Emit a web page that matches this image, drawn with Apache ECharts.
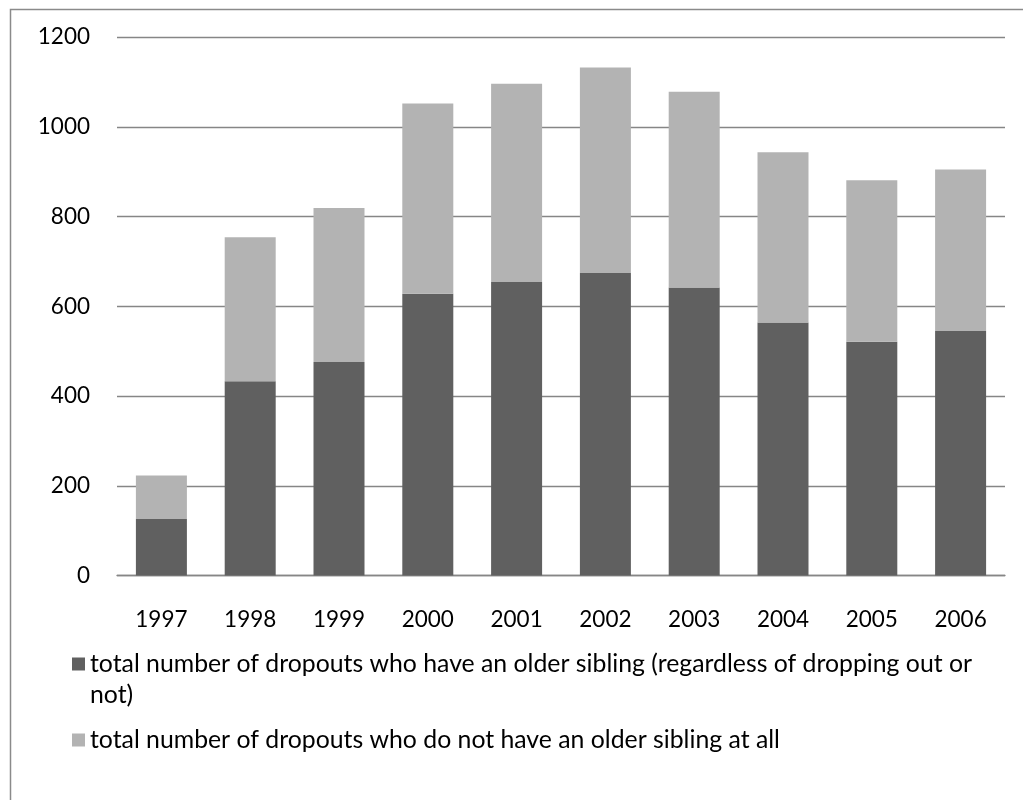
<!DOCTYPE html>
<html>
<head>
<meta charset="utf-8">
<script src="https://cdn.jsdelivr.net/npm/echarts@6/dist/echarts.min.js"></script>
<style>
  html, body { margin: 0; padding: 0; background: #ffffff; }
  #chart { width: 1023px; height: 800px; }
</style>
</head>
<body>
<div id="chart"></div>
<script>
// Dropout counts per year, split by whether the student has an older sibling
const years = ['1997', '1998', '1999', '2000', '2001', '2002', '2003', '2004', '2005', '2006'];
const withOlderSibling = [126, 433, 476, 628, 654, 674, 642, 564, 521, 545];
const withoutOlderSibling = [97, 321, 343, 424, 442, 458, 436, 379, 360, 360];
const seriesNames = [
  'total number of dropouts who have an older sibling (regardless of dropping out or not)',
  'total number of dropouts who do not have an older sibling at all'
];
const yTicks = { min: 0, max: 1200, interval: 200 };

const FONT = 'Lato, "Open Sans", sans-serif';
const chart = echarts.init(document.getElementById('chart'), null, { renderer: 'canvas' });

chart.setOption({
  backgroundColor: '#ffffff',
  animation: false,
  graphic: [{
    type: 'rect',
    left: 8, top: 7,
    shape: { width: 1100, height: 900 },
    style: { fill: 'none', stroke: '#8a8a8a', lineWidth: 1.5 },
    silent: true, z: -1
  }],
  grid: { left: 117, right: 18, top: 37, bottom: 224.5, containLabel: false },
  legend: {
    orient: 'vertical',
    left: 72,
    top: 612.5,
    padding: [5, 0, 5, 0],
    itemWidth: 13,
    itemHeight: 13,
    itemGap: 14,
    icon: 'rect',
    textStyle: {
      fontFamily: FONT, fontSize: 24.8, color: '#000000',
      width: 905, overflow: 'break', lineHeight: 31
    },
    // the long entry wraps; a leading empty line keeps its first line level with the swatch
    formatter: (name) => (name === seriesNames[0] ? '\n' + name : name)
  },
  xAxis: {
    type: 'category',
    data: years,
    axisLine: { show: true, lineStyle: { color: '#868686', width: 1.3 } },
    axisTick: { show: false },
    axisLabel: { fontFamily: FONT, fontSize: 22.5, color: '#000000', margin: 33 }
  },
  yAxis: {
    type: 'value',
    min: yTicks.min, max: yTicks.max, interval: yTicks.interval,
    axisLine: { show: false },
    axisTick: { show: false },
    splitLine: { lineStyle: { color: '#868686', width: 1.3 } },
    axisLabel: {
      fontFamily: FONT, fontSize: 22.5, color: '#000000', margin: 27,
      formatter: (v) => String(v)
    }
  },
  series: [
    {
      name: seriesNames[0], type: 'bar', stack: 'total', barWidth: 51,
      data: withOlderSibling, itemStyle: { color: '#606060' }
    },
    {
      name: seriesNames[1], type: 'bar', stack: 'total', barWidth: 51,
      data: withoutOlderSibling, itemStyle: { color: '#b3b3b3' }
    }
  ]
});
</script>
</body>
</html>
